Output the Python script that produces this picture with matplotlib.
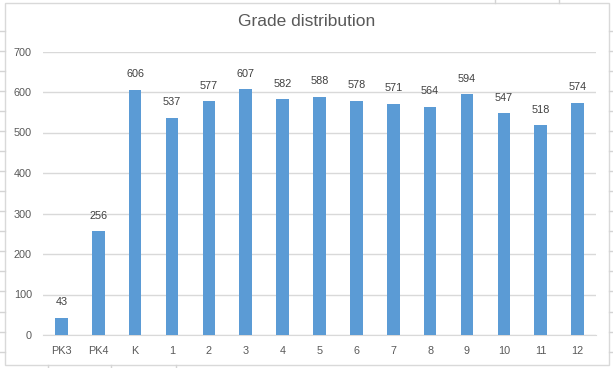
import matplotlib
matplotlib.use("Agg")
import matplotlib.pyplot as plt
from matplotlib.lines import Line2D
from matplotlib.patches import Rectangle

categories = ["PK3", "PK4", "K", "1", "2", "3", "4", "5", "6", "7", "8", "9", "10", "11", "12"]
values = [43, 256, 606, 537, 577, 607, 582, 588, 578, 571, 564, 594, 547, 518, 574]
yticks = [0, 100, 200, 300, 400, 500, 600, 700]
title = "Grade distribution"

plt.rcParams['font.family'] = ['Liberation Sans', 'DejaVu Sans']

W, H = 613, 368
fig = plt.figure(figsize=(W / 100, H / 100), dpi=100)
fig.patch.set_facecolor("white")

def fx(px):
    return px / W

def fy(py):
    return 1 - py / H

# spreadsheet cell lines outside the chart
cell_col = "#d4d4d4"
for x in [48, 111, 176]:
    fig.add_artist(Line2D([fx(x), fx(x)], [fy(365), fy(368)], color=cell_col, lw=1))
for x in [495, 559]:
    fig.add_artist(Line2D([fx(x), fx(x)], [fy(0), fy(3)], color=cell_col, lw=1))
for y in [31, 51, 71, 91, 111, 131, 151, 171, 191, 211, 231, 251, 271, 291, 312, 332, 352]:
    fig.add_artist(Line2D([fx(0), fx(5)], [fy(y), fy(y)], color=cell_col, lw=1))
    fig.add_artist(Line2D([fx(609), fx(613)], [fy(y), fy(y)], color=cell_col, lw=1))

# chart border
fig.add_artist(Rectangle((fx(5), fy(365)), fx(609) - fx(5), fy(3) - fy(365),
                         fill=False, edgecolor="#d9d9d9", lw=1))

ax = fig.add_axes([fx(43), fy(335), fx(596) - fx(43), fy(51.5) - fy(335)])
x = list(range(len(categories)))
ax.bar(x, values, width=0.34, color="#5b9bd5", zorder=3)
ax.set_xlim(-0.5, len(categories) - 0.5)
ax.set_ylim(0, 700)
ax.set_yticks(yticks)
ax.set_xticks(x)
ax.set_xticklabels(categories)
ax.grid(axis="y", color="#d9d9d9", lw=1, zorder=0)
for s in ["top", "right", "left"]:
    ax.spines[s].set_visible(False)
ax.spines["bottom"].set_color("#d9d9d9")
ax.tick_params(axis="both", length=0, labelsize=7.8, colors="#595959")
ax.tick_params(axis="y", pad=8)
ax.tick_params(axis="x", pad=8)

for xi, v in zip(x, values):
    ax.annotate(str(v), (xi, v), xytext=(0, 7.5), textcoords="offset points",
                ha="center", va="bottom", fontsize=7.8, color="#404040")

fig.text(0.5, fy(22), title, ha="center", va="center", fontsize=12.5, color="#595959")

fig.savefig("out.png", dpi=100)
